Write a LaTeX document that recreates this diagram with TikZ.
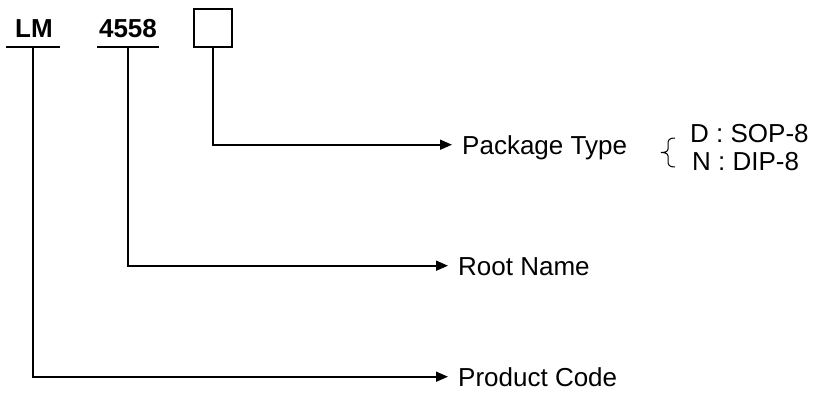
\documentclass[tikz,border=0pt]{standalone}
\usepackage{fontspec}
\setmainfont{Liberation Sans}
\usetikzlibrary{arrows.meta}
\begin{document}
\begin{tikzpicture}[x=1pt,y=-1pt,
  wire/.style={line width=1.6pt},
  arr/.style={wire,-{Triangle[length=12pt,width=10pt]}},
  lbl/.style={anchor=base west,inner sep=0pt,font=\fontsize{26}{30}\selectfont,text height=18.6pt,text depth=0pt},
  code/.style={anchor=base,inner sep=0pt,font=\fontsize{26}{30}\selectfont\bfseries},
  opt/.style={anchor=base west,inner sep=0pt,font=\fontsize{26}{30}\selectfont}]
\useasboundingbox (0,0) rectangle (816,392);
% codes
\node[code] (lm) at (34,37) {LM};
\node[code] (num) at (128,37) {4558};
\node[draw,line width=1.6pt,minimum width=38pt,minimum height=38pt,inner sep=0pt] (box) at (213,28) {};
% underlines
\coordinate (lmL) at (6,47);  \coordinate (lmR) at (60,47);
\coordinate (nuL) at (97,47); \coordinate (nuR) at (159,47);
\draw[wire] (lmL) -- (lmR);
\draw[wire] (nuL) -- (nuR);
\coordinate (lmv) at (33,47);
\coordinate (nuv) at (128,47);
% labels
\node[lbl] (pt) at (462,154) {Package Type};
\node[lbl] (rn) at (458,275) {Root Name};
\node[lbl] (pc) at (458,386) {Product Code};
% connectors
\draw[arr] (box.south) |- ([xshift=-10pt]pt.west);
\draw[arr] (nuv) |- ([xshift=-10pt]rn.west);
\draw[arr] (lmv) |- ([xshift=-10pt]pc.west);
% brace
\coordinate (brT) at (675,138);
\coordinate (brM) at (661,152.5);
\coordinate (brB) at (675,167);
\draw[line width=1pt]
  (brT) .. controls (669,138) and (668,140) .. (668,144)
  -- (668,149) .. controls (668,151.5) and (665,152.5) .. (brM)
  .. controls (665,152.5) and (668,153.5) .. (668,156)
  -- (668,161) .. controls (668,165) and (669,167) .. (brB);
% options
\node[opt] (d) at (690,142) {D : SOP-8};
\node[opt] (n) at (692,170) {N : DIP-8};
\end{tikzpicture}
\end{document}
